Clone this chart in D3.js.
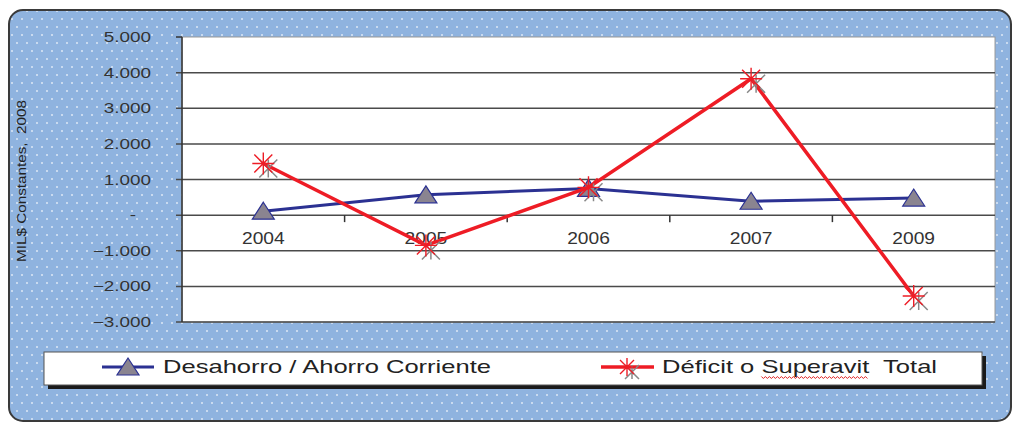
<!DOCTYPE html>
<html>
<head>
<meta charset="utf-8">
<script src="https://cdn.jsdelivr.net/npm/d3@7"></script>
<style>
  body { margin: 0; background: #fff; }
  svg { display: block; font-family: "Liberation Sans", Arial, sans-serif; }
</style>
</head>
<body>
<div id="chart"></div>
<script>
const years = ['2004', '2005', '2006', '2007', '2009'];
const desahorro = [110, 570, 750, 390, 480];
const deficit = [1450, -850, 780, 3830, -2270];
const yTicks = [5000, 4000, 3000, 2000, 1000, 0, -1000, -2000, -3000];
const seriesNames = ['Desahorro / Ahorro Corriente', 'Déficit o ', 'Superavit', '  Total'];

const W = 1016, H = 423;
const plot = { left: 182, top: 37, right: 995, bottom: 322 };

const svg = d3.select('#chart').append('svg')
  .attr('width', W)
  .attr('height', H);

let defs = svg.append('defs');
let pat = defs.append('pattern')
  .attr('id', 'dots')
  .attr('patternUnits', 'userSpaceOnUse')
  .attr('width', 10)
  .attr('height', 16);
pat.append('rect').attr('width', 10).attr('height', 16).attr('fill', '#8fb3df');
pat.append('circle').attr('cx', 2).attr('cy', 3).attr('r', 1).attr('fill', '#dde7f5');
pat.append('circle').attr('cx', 7).attr('cy', 11).attr('r', 1).attr('fill', '#dde7f5');

// outer panel
svg.append('rect')
  .attr('x', 9).attr('y', 10)
  .attr('width', 1002).attr('height', 411)
  .attr('rx', 14)
  .attr('fill', 'url(#dots)')
  .attr('stroke', '#3a3a3a')
  .attr('stroke-width', 2);

const x = d3.scaleBand()
  .domain(years)
  .range([plot.left, plot.right]);

const y = d3.scaleLinear()
  .domain([-3000, 5000])
  .range([plot.bottom, plot.top]);

// plot area
svg.append('rect')
  .attr('x', plot.left).attr('y', plot.top)
  .attr('width', plot.right - plot.left).attr('height', plot.bottom - plot.top)
  .attr('fill', '#fff')
  .attr('stroke', '#9a9a9a')
  .attr('stroke-width', 1);

// gridlines
svg.append('g')
  .selectAll('line')
  .data(yTicks.filter(d => d !== 5000))
  .enter()
  .append('line')
  .attr('x1', plot.left - 6)
  .attr('x2', plot.right)
  .attr('y1', d => y(d))
  .attr('y2', d => y(d))
  .attr('stroke', '#4a4a4a')
  .attr('stroke-width', 1.5);

// y axis line + top tick
svg.append('line')
  .attr('x1', plot.left).attr('x2', plot.left)
  .attr('y1', plot.top).attr('y2', plot.bottom)
  .attr('stroke', '#333').attr('stroke-width', 1.5);
svg.append('line')
  .attr('x1', plot.left - 6).attr('x2', plot.left)
  .attr('y1', y(5000)).attr('y2', y(5000))
  .attr('stroke', '#333').attr('stroke-width', 1.5);

const fmt = d => d === 0 ? '-' : d3.format(',')(d).replace(/,/g, '.');

// text looks horizontally stretched in the original
const sx = 1.35;

svg.append('g')
  .selectAll('text')
  .data(yTicks)
  .enter()
  .append('text')
  .attr('transform', d => `translate(${d === 0 ? 133 : 151}, ${y(d) + 5}) scale(${sx}, 1)`)
  .attr('text-anchor', d => d === 0 ? 'middle' : 'end')
  .attr('font-size', 14)
  .attr('fill', '#333')
  .text(fmt);

// category ticks at zero line
svg.append('g')
  .selectAll('line')
  .data(years.slice(1))
  .enter()
  .append('line')
  .attr('x1', d => x(d))
  .attr('x2', d => x(d))
  .attr('y1', y(0))
  .attr('y2', y(0) + 7)
  .attr('stroke', '#333')
  .attr('stroke-width', 1.5);

svg.append('g')
  .selectAll('text')
  .data(years)
  .enter()
  .append('text')
  .attr('transform', d => `translate(${x(d) + x.bandwidth() / 2}, ${y(0) + 29}) scale(1.2, 1)`)
  .attr('text-anchor', 'middle')
  .attr('font-size', 16)
  .attr('fill', '#333')
  .text(d => d);

// y label
svg.append('text')
  .attr('transform', `translate(26, ${(100 + 262) / 2}) rotate(-90)`)
  .attr('text-anchor', 'middle')
  .attr('font-size', 12)
  .attr('textLength', 162)
  .attr('lengthAdjust', 'spacingAndGlyphs')
  .attr('fill', '#222')
  .attr('xml:space', 'preserve')
  .text('MIL$ Constantes,  2008');

const cx = d => x(d) + x.bandwidth() / 2;

const line = d3.line()
  .x((d, i) => cx(years[i]))
  .y(d => y(d));

const triPath = 'M0,-9L11,8L-11,8Z';

function star(g, px, py, s) {
  // gray shadow asterisk
  let ox = px + 5, oy = py + 5;
  g.append('path')
    .attr('d', `M${ox - s},${oy - s}L${ox + s},${oy + s}M${ox - s},${oy + s}L${ox + s},${oy - s}M${ox},${oy - s}L${ox},${oy + s}`)
    .attr('stroke', '#888').attr('stroke-width', 1.5);
  g.append('path')
    .attr('d', `M${px - s},${py - s}L${px + s},${py + s}M${px - s},${py + s}L${px + s},${py - s}M${px},${py - s - 2}L${px},${py + s + 2}M${px - s - 2},${py}L${px + s + 2},${py}`)
    .attr('stroke', '#ee1c25').attr('stroke-width', 1.4);
}

// blue series
svg.append('path')
  .datum(desahorro)
  .attr('d', line)
  .attr('fill', 'none')
  .attr('stroke', '#2b3192')
  .attr('stroke-width', 3);

svg.append('g')
  .selectAll('path')
  .data(desahorro)
  .enter()
  .append('path')
  .attr('d', triPath)
  .attr('transform', (d, i) => `translate(${cx(years[i])}, ${y(d)})`)
  .attr('fill', '#8a8490')
  .attr('stroke', '#2b3192')
  .attr('stroke-width', 1.2);

// red series
svg.append('path')
  .datum(deficit)
  .attr('d', line)
  .attr('fill', 'none')
  .attr('stroke', '#ee1c25')
  .attr('stroke-width', 3.5);

let starG = svg.append('g');
deficit.forEach((d, i) => star(starG, cx(years[i]), y(d), 9));

// legend
svg.append('rect')
  .attr('x', 48).attr('y', 356)
  .attr('width', 938).attr('height', 33)
  .attr('fill', '#1a1a1a');
svg.append('rect')
  .attr('x', 44).attr('y', 352)
  .attr('width', 938).attr('height', 33)
  .attr('fill', '#fff')
  .attr('stroke', '#555')
  .attr('stroke-width', 1);

const legY = 367;
let leg1 = svg.append('g');
leg1.append('line')
  .attr('x1', 102).attr('x2', 154).attr('y1', legY).attr('y2', legY)
  .attr('stroke', '#2b3192').attr('stroke-width', 3);
leg1.append('path')
  .attr('d', triPath)
  .attr('transform', `translate(128, ${legY})`)
  .attr('fill', '#8a8490')
  .attr('stroke', '#2b3192')
  .attr('stroke-width', 1.2);
leg1.append('text')
  .attr('transform', `translate(163, ${legY + 6}) scale(1.42, 1)`)
  .attr('font-size', 18)
  .attr('fill', '#222')
  .text(seriesNames[0]);

let leg2 = svg.append('g');
leg2.append('line')
  .attr('x1', 601).attr('x2', 654).attr('y1', legY).attr('y2', legY)
  .attr('stroke', '#ee1c25').attr('stroke-width', 3.5);
star(leg2, 627, legY, 7);
let t2 = leg2.append('text')
  .attr('transform', `translate(662, ${legY + 6}) scale(1.42, 1)`)
  .attr('font-size', 18)
  .attr('fill', '#222')
  .attr('xml:space', 'preserve');
t2.append('tspan').text(seriesNames[1]);
t2.append('tspan').text(seriesNames[2]);
t2.append('tspan').text(seriesNames[3]);

// spell-check squiggle under "Superavit"
let sup = t2.selectAll('tspan').nodes()[1];
let start = sup.getStartPositionOfChar(0).x;
let end = sup.getEndPositionOfChar(seriesNames[2].length - 1).x;
let x0 = 662 + start * 1.42, x1 = 662 + end * 1.42;
let wave = d3.range(x0, x1, 2).map((px, i) => [px, legY + 10 + (i % 2 ? 1.5 : -0.5)]);
leg2.append('path')
  .attr('d', d3.line()(wave))
  .attr('fill', 'none')
  .attr('stroke', '#e02020')
  .attr('stroke-width', 1);
</script>
</body>
</html>
